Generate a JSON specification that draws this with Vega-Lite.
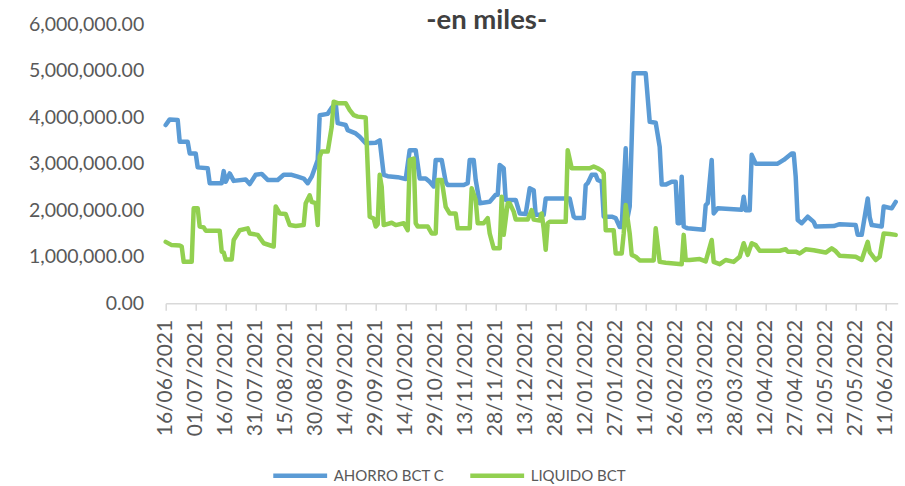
{
  "$schema": "https://vega.github.io/schema/vega-lite/v6.json",
  "autosize": {"type": "none"},
  "width": 732,
  "height": 279.3,
  "padding": {"left": 165.7, "top": 24, "right": 7.3, "bottom": 182.7},
  "background": "white",
  "title": {
    "text": "-en miles-",
    "font": "Lato",
    "fontSize": 27.5,
    "fontWeight": "bold",
    "color": "#404040",
    "anchor": "middle",
    "frame": "group",
    "baseline": "alphabetic",
    "dx": -45,
    "dy": 34,
    "offset": -8
  },
  "config": {"view": {"stroke": null}},
  "data": {
    "values": [
      {"date": "2021-06-16", "serie": "AHORRO BCT C", "valor": 3830000},
      {"date": "2021-06-18", "serie": "AHORRO BCT C", "valor": 3950000},
      {"date": "2021-06-22", "serie": "AHORRO BCT C", "valor": 3940000},
      {"date": "2021-06-23", "serie": "AHORRO BCT C", "valor": 3470000},
      {"date": "2021-06-27", "serie": "AHORRO BCT C", "valor": 3470000},
      {"date": "2021-06-28", "serie": "AHORRO BCT C", "valor": 3220000},
      {"date": "2021-07-01", "serie": "AHORRO BCT C", "valor": 3220000},
      {"date": "2021-07-02", "serie": "AHORRO BCT C", "valor": 2920000},
      {"date": "2021-07-07", "serie": "AHORRO BCT C", "valor": 2900000},
      {"date": "2021-07-08", "serie": "AHORRO BCT C", "valor": 2580000},
      {"date": "2021-07-14", "serie": "AHORRO BCT C", "valor": 2580000},
      {"date": "2021-07-15", "serie": "AHORRO BCT C", "valor": 2840000},
      {"date": "2021-07-16", "serie": "AHORRO BCT C", "valor": 2610000},
      {"date": "2021-07-18", "serie": "AHORRO BCT C", "valor": 2790000},
      {"date": "2021-07-20", "serie": "AHORRO BCT C", "valor": 2630000},
      {"date": "2021-07-26", "serie": "AHORRO BCT C", "valor": 2660000},
      {"date": "2021-07-28", "serie": "AHORRO BCT C", "valor": 2560000},
      {"date": "2021-07-31", "serie": "AHORRO BCT C", "valor": 2760000},
      {"date": "2021-08-03", "serie": "AHORRO BCT C", "valor": 2780000},
      {"date": "2021-08-06", "serie": "AHORRO BCT C", "valor": 2650000},
      {"date": "2021-08-11", "serie": "AHORRO BCT C", "valor": 2650000},
      {"date": "2021-08-14", "serie": "AHORRO BCT C", "valor": 2760000},
      {"date": "2021-08-18", "serie": "AHORRO BCT C", "valor": 2760000},
      {"date": "2021-08-21", "serie": "AHORRO BCT C", "valor": 2720000},
      {"date": "2021-08-24", "serie": "AHORRO BCT C", "valor": 2680000},
      {"date": "2021-08-26", "serie": "AHORRO BCT C", "valor": 2580000},
      {"date": "2021-08-28", "serie": "AHORRO BCT C", "valor": 2720000},
      {"date": "2021-08-31", "serie": "AHORRO BCT C", "valor": 3080000},
      {"date": "2021-09-01", "serie": "AHORRO BCT C", "valor": 4040000},
      {"date": "2021-09-05", "serie": "AHORRO BCT C", "valor": 4070000},
      {"date": "2021-09-07", "serie": "AHORRO BCT C", "valor": 4200000},
      {"date": "2021-09-09", "serie": "AHORRO BCT C", "valor": 4300000},
      {"date": "2021-09-10", "serie": "AHORRO BCT C", "valor": 3870000},
      {"date": "2021-09-14", "serie": "AHORRO BCT C", "valor": 3830000},
      {"date": "2021-09-15", "serie": "AHORRO BCT C", "valor": 3720000},
      {"date": "2021-09-19", "serie": "AHORRO BCT C", "valor": 3650000},
      {"date": "2021-09-21", "serie": "AHORRO BCT C", "valor": 3580000},
      {"date": "2021-09-24", "serie": "AHORRO BCT C", "valor": 3440000},
      {"date": "2021-09-29", "serie": "AHORRO BCT C", "valor": 3450000},
      {"date": "2021-10-01", "serie": "AHORRO BCT C", "valor": 3500000},
      {"date": "2021-10-03", "serie": "AHORRO BCT C", "valor": 2760000},
      {"date": "2021-10-05", "serie": "AHORRO BCT C", "valor": 2730000},
      {"date": "2021-10-10", "serie": "AHORRO BCT C", "valor": 2710000},
      {"date": "2021-10-14", "serie": "AHORRO BCT C", "valor": 2670000},
      {"date": "2021-10-16", "serie": "AHORRO BCT C", "valor": 3290000},
      {"date": "2021-10-19", "serie": "AHORRO BCT C", "valor": 3290000},
      {"date": "2021-10-21", "serie": "AHORRO BCT C", "valor": 2680000},
      {"date": "2021-10-24", "serie": "AHORRO BCT C", "valor": 2680000},
      {"date": "2021-10-26", "serie": "AHORRO BCT C", "valor": 2610000},
      {"date": "2021-10-28", "serie": "AHORRO BCT C", "valor": 2510000},
      {"date": "2021-10-29", "serie": "AHORRO BCT C", "valor": 3080000},
      {"date": "2021-11-01", "serie": "AHORRO BCT C", "valor": 3080000},
      {"date": "2021-11-03", "serie": "AHORRO BCT C", "valor": 2610000},
      {"date": "2021-11-04", "serie": "AHORRO BCT C", "valor": 2540000},
      {"date": "2021-11-12", "serie": "AHORRO BCT C", "valor": 2540000},
      {"date": "2021-11-14", "serie": "AHORRO BCT C", "valor": 2580000},
      {"date": "2021-11-15", "serie": "AHORRO BCT C", "valor": 3080000},
      {"date": "2021-11-17", "serie": "AHORRO BCT C", "valor": 3080000},
      {"date": "2021-11-18", "serie": "AHORRO BCT C", "valor": 2650000},
      {"date": "2021-11-20", "serie": "AHORRO BCT C", "valor": 2150000},
      {"date": "2021-11-25", "serie": "AHORRO BCT C", "valor": 2180000},
      {"date": "2021-11-28", "serie": "AHORRO BCT C", "valor": 2330000},
      {"date": "2021-11-29", "serie": "AHORRO BCT C", "valor": 2330000},
      {"date": "2021-11-30", "serie": "AHORRO BCT C", "valor": 2970000},
      {"date": "2021-12-02", "serie": "AHORRO BCT C", "valor": 2900000},
      {"date": "2021-12-03", "serie": "AHORRO BCT C", "valor": 2220000},
      {"date": "2021-12-08", "serie": "AHORRO BCT C", "valor": 2220000},
      {"date": "2021-12-10", "serie": "AHORRO BCT C", "valor": 1930000},
      {"date": "2021-12-13", "serie": "AHORRO BCT C", "valor": 1920000},
      {"date": "2021-12-15", "serie": "AHORRO BCT C", "valor": 2470000},
      {"date": "2021-12-17", "serie": "AHORRO BCT C", "valor": 2430000},
      {"date": "2021-12-18", "serie": "AHORRO BCT C", "valor": 1900000},
      {"date": "2021-12-22", "serie": "AHORRO BCT C", "valor": 1900000},
      {"date": "2021-12-23", "serie": "AHORRO BCT C", "valor": 2250000},
      {"date": "2022-01-04", "serie": "AHORRO BCT C", "valor": 2250000},
      {"date": "2022-01-06", "serie": "AHORRO BCT C", "valor": 1860000},
      {"date": "2022-01-07", "serie": "AHORRO BCT C", "valor": 1830000},
      {"date": "2022-01-11", "serie": "AHORRO BCT C", "valor": 1830000},
      {"date": "2022-01-12", "serie": "AHORRO BCT C", "valor": 2540000},
      {"date": "2022-01-13", "serie": "AHORRO BCT C", "valor": 2580000},
      {"date": "2022-01-15", "serie": "AHORRO BCT C", "valor": 2760000},
      {"date": "2022-01-17", "serie": "AHORRO BCT C", "valor": 2760000},
      {"date": "2022-01-18", "serie": "AHORRO BCT C", "valor": 2650000},
      {"date": "2022-01-20", "serie": "AHORRO BCT C", "valor": 2610000},
      {"date": "2022-01-21", "serie": "AHORRO BCT C", "valor": 1860000},
      {"date": "2022-01-25", "serie": "AHORRO BCT C", "valor": 1860000},
      {"date": "2022-01-27", "serie": "AHORRO BCT C", "valor": 1830000},
      {"date": "2022-01-29", "serie": "AHORRO BCT C", "valor": 1640000},
      {"date": "2022-01-30", "serie": "AHORRO BCT C", "valor": 1640000},
      {"date": "2022-02-01", "serie": "AHORRO BCT C", "valor": 3330000},
      {"date": "2022-02-02", "serie": "AHORRO BCT C", "valor": 1860000},
      {"date": "2022-02-03", "serie": "AHORRO BCT C", "valor": 2080000},
      {"date": "2022-02-05", "serie": "AHORRO BCT C", "valor": 4940000},
      {"date": "2022-02-11", "serie": "AHORRO BCT C", "valor": 4940000},
      {"date": "2022-02-13", "serie": "AHORRO BCT C", "valor": 3900000},
      {"date": "2022-02-16", "serie": "AHORRO BCT C", "valor": 3880000},
      {"date": "2022-02-18", "serie": "AHORRO BCT C", "valor": 3360000},
      {"date": "2022-02-19", "serie": "AHORRO BCT C", "valor": 2550000},
      {"date": "2022-02-21", "serie": "AHORRO BCT C", "valor": 2550000},
      {"date": "2022-02-24", "serie": "AHORRO BCT C", "valor": 2610000},
      {"date": "2022-02-26", "serie": "AHORRO BCT C", "valor": 2610000},
      {"date": "2022-02-27", "serie": "AHORRO BCT C", "valor": 1720000},
      {"date": "2022-02-28", "serie": "AHORRO BCT C", "valor": 1720000},
      {"date": "2022-03-01", "serie": "AHORRO BCT C", "valor": 2720000},
      {"date": "2022-03-02", "serie": "AHORRO BCT C", "valor": 1650000},
      {"date": "2022-03-04", "serie": "AHORRO BCT C", "valor": 1610000},
      {"date": "2022-03-12", "serie": "AHORRO BCT C", "valor": 1580000},
      {"date": "2022-03-13", "serie": "AHORRO BCT C", "valor": 2110000},
      {"date": "2022-03-14", "serie": "AHORRO BCT C", "valor": 2150000},
      {"date": "2022-03-16", "serie": "AHORRO BCT C", "valor": 3080000},
      {"date": "2022-03-17", "serie": "AHORRO BCT C", "valor": 1930000},
      {"date": "2022-03-19", "serie": "AHORRO BCT C", "valor": 2040000},
      {"date": "2022-03-31", "serie": "AHORRO BCT C", "valor": 2010000},
      {"date": "2022-04-01", "serie": "AHORRO BCT C", "valor": 2290000},
      {"date": "2022-04-02", "serie": "AHORRO BCT C", "valor": 2000000},
      {"date": "2022-04-04", "serie": "AHORRO BCT C", "valor": 2000000},
      {"date": "2022-04-05", "serie": "AHORRO BCT C", "valor": 3190000},
      {"date": "2022-04-07", "serie": "AHORRO BCT C", "valor": 3000000},
      {"date": "2022-04-18", "serie": "AHORRO BCT C", "valor": 3000000},
      {"date": "2022-04-21", "serie": "AHORRO BCT C", "valor": 3080000},
      {"date": "2022-04-23", "serie": "AHORRO BCT C", "valor": 3150000},
      {"date": "2022-04-25", "serie": "AHORRO BCT C", "valor": 3220000},
      {"date": "2022-04-26", "serie": "AHORRO BCT C", "valor": 3220000},
      {"date": "2022-04-27", "serie": "AHORRO BCT C", "valor": 2720000},
      {"date": "2022-04-28", "serie": "AHORRO BCT C", "valor": 1790000},
      {"date": "2022-04-30", "serie": "AHORRO BCT C", "valor": 1720000},
      {"date": "2022-05-03", "serie": "AHORRO BCT C", "valor": 1860000},
      {"date": "2022-05-06", "serie": "AHORRO BCT C", "valor": 1750000},
      {"date": "2022-05-07", "serie": "AHORRO BCT C", "valor": 1650000},
      {"date": "2022-05-16", "serie": "AHORRO BCT C", "valor": 1660000},
      {"date": "2022-05-19", "serie": "AHORRO BCT C", "valor": 1700000},
      {"date": "2022-05-27", "serie": "AHORRO BCT C", "valor": 1680000},
      {"date": "2022-05-28", "serie": "AHORRO BCT C", "valor": 1470000},
      {"date": "2022-05-30", "serie": "AHORRO BCT C", "valor": 1470000},
      {"date": "2022-06-02", "serie": "AHORRO BCT C", "valor": 2250000},
      {"date": "2022-06-03", "serie": "AHORRO BCT C", "valor": 1850000},
      {"date": "2022-06-04", "serie": "AHORRO BCT C", "valor": 1680000},
      {"date": "2022-06-09", "serie": "AHORRO BCT C", "valor": 1650000},
      {"date": "2022-06-10", "serie": "AHORRO BCT C", "valor": 2080000},
      {"date": "2022-06-14", "serie": "AHORRO BCT C", "valor": 2040000},
      {"date": "2022-06-16", "serie": "AHORRO BCT C", "valor": 2180000},
      {"date": "2021-06-16", "serie": "LIQUIDO BCT", "valor": 1320000},
      {"date": "2021-06-19", "serie": "LIQUIDO BCT", "valor": 1250000},
      {"date": "2021-06-23", "serie": "LIQUIDO BCT", "valor": 1240000},
      {"date": "2021-06-24", "serie": "LIQUIDO BCT", "valor": 1220000},
      {"date": "2021-06-25", "serie": "LIQUIDO BCT", "valor": 890000},
      {"date": "2021-06-29", "serie": "LIQUIDO BCT", "valor": 890000},
      {"date": "2021-06-30", "serie": "LIQUIDO BCT", "valor": 2040000},
      {"date": "2021-07-02", "serie": "LIQUIDO BCT", "valor": 2040000},
      {"date": "2021-07-03", "serie": "LIQUIDO BCT", "valor": 1650000},
      {"date": "2021-07-05", "serie": "LIQUIDO BCT", "valor": 1630000},
      {"date": "2021-07-06", "serie": "LIQUIDO BCT", "valor": 1560000},
      {"date": "2021-07-13", "serie": "LIQUIDO BCT", "valor": 1560000},
      {"date": "2021-07-14", "serie": "LIQUIDO BCT", "valor": 1110000},
      {"date": "2021-07-15", "serie": "LIQUIDO BCT", "valor": 1090000},
      {"date": "2021-07-16", "serie": "LIQUIDO BCT", "valor": 940000},
      {"date": "2021-07-19", "serie": "LIQUIDO BCT", "valor": 940000},
      {"date": "2021-07-20", "serie": "LIQUIDO BCT", "valor": 1360000},
      {"date": "2021-07-23", "serie": "LIQUIDO BCT", "valor": 1570000},
      {"date": "2021-07-27", "serie": "LIQUIDO BCT", "valor": 1610000},
      {"date": "2021-07-28", "serie": "LIQUIDO BCT", "valor": 1500000},
      {"date": "2021-08-01", "serie": "LIQUIDO BCT", "valor": 1470000},
      {"date": "2021-08-04", "serie": "LIQUIDO BCT", "valor": 1290000},
      {"date": "2021-08-09", "serie": "LIQUIDO BCT", "valor": 1220000},
      {"date": "2021-08-10", "serie": "LIQUIDO BCT", "valor": 2080000},
      {"date": "2021-08-12", "serie": "LIQUIDO BCT", "valor": 1930000},
      {"date": "2021-08-15", "serie": "LIQUIDO BCT", "valor": 1920000},
      {"date": "2021-08-16", "serie": "LIQUIDO BCT", "valor": 1800000},
      {"date": "2021-08-17", "serie": "LIQUIDO BCT", "valor": 1680000},
      {"date": "2021-08-20", "serie": "LIQUIDO BCT", "valor": 1660000},
      {"date": "2021-08-24", "serie": "LIQUIDO BCT", "valor": 1680000},
      {"date": "2021-08-25", "serie": "LIQUIDO BCT", "valor": 2150000},
      {"date": "2021-08-27", "serie": "LIQUIDO BCT", "valor": 2320000},
      {"date": "2021-08-28", "serie": "LIQUIDO BCT", "valor": 2180000},
      {"date": "2021-08-30", "serie": "LIQUIDO BCT", "valor": 2150000},
      {"date": "2021-08-31", "serie": "LIQUIDO BCT", "valor": 1680000},
      {"date": "2021-09-01", "serie": "LIQUIDO BCT", "valor": 3150000},
      {"date": "2021-09-02", "serie": "LIQUIDO BCT", "valor": 3260000},
      {"date": "2021-09-05", "serie": "LIQUIDO BCT", "valor": 3260000},
      {"date": "2021-09-07", "serie": "LIQUIDO BCT", "valor": 3790000},
      {"date": "2021-09-08", "serie": "LIQUIDO BCT", "valor": 4330000},
      {"date": "2021-09-10", "serie": "LIQUIDO BCT", "valor": 4300000},
      {"date": "2021-09-14", "serie": "LIQUIDO BCT", "valor": 4300000},
      {"date": "2021-09-16", "serie": "LIQUIDO BCT", "valor": 4150000},
      {"date": "2021-09-18", "serie": "LIQUIDO BCT", "valor": 4040000},
      {"date": "2021-09-20", "serie": "LIQUIDO BCT", "valor": 4010000},
      {"date": "2021-09-24", "serie": "LIQUIDO BCT", "valor": 3990000},
      {"date": "2021-09-26", "serie": "LIQUIDO BCT", "valor": 1860000},
      {"date": "2021-09-28", "serie": "LIQUIDO BCT", "valor": 1820000},
      {"date": "2021-09-29", "serie": "LIQUIDO BCT", "valor": 1650000},
      {"date": "2021-09-30", "serie": "LIQUIDO BCT", "valor": 1700000},
      {"date": "2021-10-01", "serie": "LIQUIDO BCT", "valor": 2760000},
      {"date": "2021-10-02", "serie": "LIQUIDO BCT", "valor": 2500000},
      {"date": "2021-10-03", "serie": "LIQUIDO BCT", "valor": 1680000},
      {"date": "2021-10-07", "serie": "LIQUIDO BCT", "valor": 1730000},
      {"date": "2021-10-09", "serie": "LIQUIDO BCT", "valor": 1680000},
      {"date": "2021-10-13", "serie": "LIQUIDO BCT", "valor": 1720000},
      {"date": "2021-10-15", "serie": "LIQUIDO BCT", "valor": 1570000},
      {"date": "2021-10-16", "serie": "LIQUIDO BCT", "valor": 3080000},
      {"date": "2021-10-18", "serie": "LIQUIDO BCT", "valor": 3110000},
      {"date": "2021-10-19", "serie": "LIQUIDO BCT", "valor": 1720000},
      {"date": "2021-10-20", "serie": "LIQUIDO BCT", "valor": 1650000},
      {"date": "2021-10-25", "serie": "LIQUIDO BCT", "valor": 1650000},
      {"date": "2021-10-27", "serie": "LIQUIDO BCT", "valor": 1500000},
      {"date": "2021-10-29", "serie": "LIQUIDO BCT", "valor": 1500000},
      {"date": "2021-10-30", "serie": "LIQUIDO BCT", "valor": 2650000},
      {"date": "2021-11-01", "serie": "LIQUIDO BCT", "valor": 2650000},
      {"date": "2021-11-03", "serie": "LIQUIDO BCT", "valor": 2070000},
      {"date": "2021-11-05", "serie": "LIQUIDO BCT", "valor": 1930000},
      {"date": "2021-11-08", "serie": "LIQUIDO BCT", "valor": 1930000},
      {"date": "2021-11-09", "serie": "LIQUIDO BCT", "valor": 1610000},
      {"date": "2021-11-15", "serie": "LIQUIDO BCT", "valor": 1610000},
      {"date": "2021-11-16", "serie": "LIQUIDO BCT", "valor": 2470000},
      {"date": "2021-11-18", "serie": "LIQUIDO BCT", "valor": 2220000},
      {"date": "2021-11-19", "serie": "LIQUIDO BCT", "valor": 1720000},
      {"date": "2021-11-22", "serie": "LIQUIDO BCT", "valor": 1720000},
      {"date": "2021-11-24", "serie": "LIQUIDO BCT", "valor": 1830000},
      {"date": "2021-11-25", "serie": "LIQUIDO BCT", "valor": 1500000},
      {"date": "2021-11-27", "serie": "LIQUIDO BCT", "valor": 1180000},
      {"date": "2021-11-30", "serie": "LIQUIDO BCT", "valor": 1180000},
      {"date": "2021-12-01", "serie": "LIQUIDO BCT", "valor": 2290000},
      {"date": "2021-12-02", "serie": "LIQUIDO BCT", "valor": 1470000},
      {"date": "2021-12-04", "serie": "LIQUIDO BCT", "valor": 2150000},
      {"date": "2021-12-05", "serie": "LIQUIDO BCT", "valor": 2150000},
      {"date": "2021-12-07", "serie": "LIQUIDO BCT", "valor": 1970000},
      {"date": "2021-12-08", "serie": "LIQUIDO BCT", "valor": 1800000},
      {"date": "2021-12-14", "serie": "LIQUIDO BCT", "valor": 1800000},
      {"date": "2021-12-16", "serie": "LIQUIDO BCT", "valor": 2000000},
      {"date": "2021-12-17", "serie": "LIQUIDO BCT", "valor": 1800000},
      {"date": "2021-12-20", "serie": "LIQUIDO BCT", "valor": 1780000},
      {"date": "2021-12-21", "serie": "LIQUIDO BCT", "valor": 1930000},
      {"date": "2021-12-22", "serie": "LIQUIDO BCT", "valor": 1600000},
      {"date": "2021-12-23", "serie": "LIQUIDO BCT", "valor": 1150000},
      {"date": "2021-12-24", "serie": "LIQUIDO BCT", "valor": 1720000},
      {"date": "2021-12-25", "serie": "LIQUIDO BCT", "valor": 1750000},
      {"date": "2022-01-02", "serie": "LIQUIDO BCT", "valor": 1750000},
      {"date": "2022-01-03", "serie": "LIQUIDO BCT", "valor": 3290000},
      {"date": "2022-01-05", "serie": "LIQUIDO BCT", "valor": 2900000},
      {"date": "2022-01-14", "serie": "LIQUIDO BCT", "valor": 2900000},
      {"date": "2022-01-16", "serie": "LIQUIDO BCT", "valor": 2940000},
      {"date": "2022-01-18", "serie": "LIQUIDO BCT", "valor": 2900000},
      {"date": "2022-01-20", "serie": "LIQUIDO BCT", "valor": 2850000},
      {"date": "2022-01-21", "serie": "LIQUIDO BCT", "valor": 2790000},
      {"date": "2022-01-22", "serie": "LIQUIDO BCT", "valor": 1570000},
      {"date": "2022-01-26", "serie": "LIQUIDO BCT", "valor": 1570000},
      {"date": "2022-01-27", "serie": "LIQUIDO BCT", "valor": 1070000},
      {"date": "2022-01-30", "serie": "LIQUIDO BCT", "valor": 1070000},
      {"date": "2022-01-31", "serie": "LIQUIDO BCT", "valor": 1500000},
      {"date": "2022-02-01", "serie": "LIQUIDO BCT", "valor": 2110000},
      {"date": "2022-02-03", "serie": "LIQUIDO BCT", "valor": 1500000},
      {"date": "2022-02-04", "serie": "LIQUIDO BCT", "valor": 1040000},
      {"date": "2022-02-06", "serie": "LIQUIDO BCT", "valor": 1000000},
      {"date": "2022-02-08", "serie": "LIQUIDO BCT", "valor": 920000},
      {"date": "2022-02-15", "serie": "LIQUIDO BCT", "valor": 920000},
      {"date": "2022-02-16", "serie": "LIQUIDO BCT", "valor": 1610000},
      {"date": "2022-02-18", "serie": "LIQUIDO BCT", "valor": 890000},
      {"date": "2022-02-21", "serie": "LIQUIDO BCT", "valor": 870000},
      {"date": "2022-03-01", "serie": "LIQUIDO BCT", "valor": 840000},
      {"date": "2022-03-02", "serie": "LIQUIDO BCT", "valor": 1470000},
      {"date": "2022-03-03", "serie": "LIQUIDO BCT", "valor": 930000},
      {"date": "2022-03-05", "serie": "LIQUIDO BCT", "valor": 930000},
      {"date": "2022-03-10", "serie": "LIQUIDO BCT", "valor": 950000},
      {"date": "2022-03-13", "serie": "LIQUIDO BCT", "valor": 900000},
      {"date": "2022-03-16", "serie": "LIQUIDO BCT", "valor": 1360000},
      {"date": "2022-03-17", "serie": "LIQUIDO BCT", "valor": 890000},
      {"date": "2022-03-20", "serie": "LIQUIDO BCT", "valor": 840000},
      {"date": "2022-03-23", "serie": "LIQUIDO BCT", "valor": 930000},
      {"date": "2022-03-27", "serie": "LIQUIDO BCT", "valor": 890000},
      {"date": "2022-03-30", "serie": "LIQUIDO BCT", "valor": 1000000},
      {"date": "2022-04-01", "serie": "LIQUIDO BCT", "valor": 1290000},
      {"date": "2022-04-03", "serie": "LIQUIDO BCT", "valor": 1040000},
      {"date": "2022-04-05", "serie": "LIQUIDO BCT", "valor": 1290000},
      {"date": "2022-04-07", "serie": "LIQUIDO BCT", "valor": 1250000},
      {"date": "2022-04-09", "serie": "LIQUIDO BCT", "valor": 1130000},
      {"date": "2022-04-19", "serie": "LIQUIDO BCT", "valor": 1130000},
      {"date": "2022-04-22", "serie": "LIQUIDO BCT", "valor": 1160000},
      {"date": "2022-04-23", "serie": "LIQUIDO BCT", "valor": 1110000},
      {"date": "2022-04-27", "serie": "LIQUIDO BCT", "valor": 1110000},
      {"date": "2022-04-29", "serie": "LIQUIDO BCT", "valor": 1070000},
      {"date": "2022-05-02", "serie": "LIQUIDO BCT", "valor": 1160000},
      {"date": "2022-05-06", "serie": "LIQUIDO BCT", "valor": 1140000},
      {"date": "2022-05-12", "serie": "LIQUIDO BCT", "valor": 1090000},
      {"date": "2022-05-15", "serie": "LIQUIDO BCT", "valor": 1180000},
      {"date": "2022-05-17", "serie": "LIQUIDO BCT", "valor": 1120000},
      {"date": "2022-05-19", "serie": "LIQUIDO BCT", "valor": 1020000},
      {"date": "2022-05-27", "serie": "LIQUIDO BCT", "valor": 1000000},
      {"date": "2022-05-30", "serie": "LIQUIDO BCT", "valor": 930000},
      {"date": "2022-06-02", "serie": "LIQUIDO BCT", "valor": 1320000},
      {"date": "2022-06-03", "serie": "LIQUIDO BCT", "valor": 1100000},
      {"date": "2022-06-06", "serie": "LIQUIDO BCT", "valor": 930000},
      {"date": "2022-06-08", "serie": "LIQUIDO BCT", "valor": 1000000},
      {"date": "2022-06-10", "serie": "LIQUIDO BCT", "valor": 1500000},
      {"date": "2022-06-13", "serie": "LIQUIDO BCT", "valor": 1490000},
      {"date": "2022-06-16", "serie": "LIQUIDO BCT", "valor": 1470000}
    ]
  },
  "mark": {"type": "line", "strokeWidth": 4.5, "strokeJoin": "round", "strokeCap": "round"},
  "encoding": {
    "x": {
      "field": "date",
      "type": "temporal",
      "scale": {
        "type": "utc",
        "nice": false,
        "domain": [
          {"year": 2021, "month": 6, "date": 16, "utc": true},
          {"year": 2022, "month": 6, "date": 17, "utc": true}
        ]
      },
      "axis": {
        "title": null,
        "grid": false,
        "format": "%d/%m/%Y",
        "labelAngle": -90,
        "labelFont": "Lato",
        "labelFontSize": 21,
        "labelColor": "#595959",
        "labelPadding": 9,
        "labelOverlap": false,
        "labelFlush": false,
        "tickColor": "#D9D9D9",
        "tickSize": 7,
        "tickWidth": 1.5,
        "domainColor": "#D9D9D9",
        "domainWidth": 1.5,
        "values": [
          {"year": 2021, "month": 6, "date": 16, "utc": true},
          {"year": 2021, "month": 7, "date": 1, "utc": true},
          {"year": 2021, "month": 7, "date": 16, "utc": true},
          {"year": 2021, "month": 7, "date": 31, "utc": true},
          {"year": 2021, "month": 8, "date": 15, "utc": true},
          {"year": 2021, "month": 8, "date": 30, "utc": true},
          {"year": 2021, "month": 9, "date": 14, "utc": true},
          {"year": 2021, "month": 9, "date": 29, "utc": true},
          {"year": 2021, "month": 10, "date": 14, "utc": true},
          {"year": 2021, "month": 10, "date": 29, "utc": true},
          {"year": 2021, "month": 11, "date": 13, "utc": true},
          {"year": 2021, "month": 11, "date": 28, "utc": true},
          {"year": 2021, "month": 12, "date": 13, "utc": true},
          {"year": 2021, "month": 12, "date": 28, "utc": true},
          {"year": 2022, "month": 1, "date": 12, "utc": true},
          {"year": 2022, "month": 1, "date": 27, "utc": true},
          {"year": 2022, "month": 2, "date": 11, "utc": true},
          {"year": 2022, "month": 2, "date": 26, "utc": true},
          {"year": 2022, "month": 3, "date": 13, "utc": true},
          {"year": 2022, "month": 3, "date": 28, "utc": true},
          {"year": 2022, "month": 4, "date": 12, "utc": true},
          {"year": 2022, "month": 4, "date": 27, "utc": true},
          {"year": 2022, "month": 5, "date": 12, "utc": true},
          {"year": 2022, "month": 5, "date": 27, "utc": true},
          {"year": 2022, "month": 6, "date": 11, "utc": true}
        ]
      }
    },
    "y": {
      "field": "valor",
      "type": "quantitative",
      "scale": {"domain": [0, 6000000], "nice": false},
      "axis": {
        "title": null,
        "grid": false,
        "domain": false,
        "ticks": false,
        "values": [0, 1000000, 2000000, 3000000, 4000000, 5000000, 6000000],
        "format": ",.2f",
        "labelFont": "Lato",
        "labelFontSize": 19.5,
        "labelColor": "#595959",
        "labelPadding": 22
      }
    },
    "color": {
      "field": "serie",
      "type": "nominal",
      "scale": {"domain": ["AHORRO BCT C", "LIQUIDO BCT"], "range": ["#5B9BD5", "#92D050"]},
      "legend": {
        "title": null,
        "orient": "none",
        "direction": "horizontal",
        "legendX": 105,
        "legendY": 422,
        "padding": 0,
        "symbolType": "stroke",
        "symbolSize": 2900,
        "symbolStrokeWidth": 4.5,
        "labelFont": "Lato",
        "labelFontSize": 15,
        "labelColor": "#595959",
        "labelOffset": 4,
        "columnPadding": 16
      }
    }
  }
}
